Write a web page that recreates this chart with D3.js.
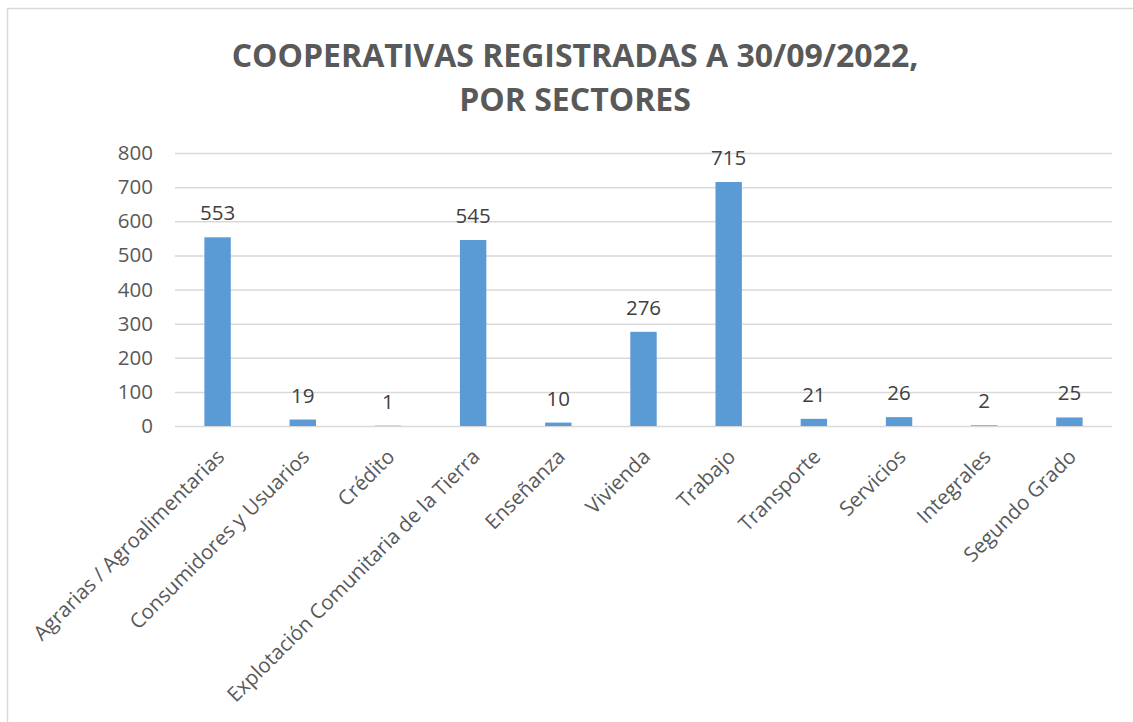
<!DOCTYPE html>
<html>
<head>
<meta charset="utf-8">
<script src="https://cdn.jsdelivr.net/npm/d3@7"></script>
<style>
  body { margin: 0; background: #fff; }
  svg text { font-family: "Open Sans", sans-serif; }
</style>
</head>
<body>
<div id="chart"></div>
<script>
// data
var sectores = ["Agrarias / Agroalimentarias", "Consumidores y Usuarios", "Crédito",
    "Explotación Comunitaria de la Tierra", "Enseñanza", "Vivienda", "Trabajo",
    "Transporte", "Servicios", "Integrales", "Segundo Grado"];
var cooperativas = [553, 19, 1, 545, 10, 276, 715, 21, 26, 2, 25];
var yTicks = [0, 100, 200, 300, 400, 500, 600, 700, 800];
var titulo = ["COOPERATIVAS REGISTRADAS A 30/09/2022,", "POR SECTORES"];

var W = 1133, H = 722;
var svg = d3.select("#chart").append("svg").attr("width", W).attr("height", H);

// chart area border (only top and left visible in the crop)
svg.append("rect")
    .attr("x", 7.5).attr("y", 8.5)
    .attr("width", 1200).attr("height", 800)
    .attr("fill", "none")
    .attr("stroke", "#d9d9d9")
    .attr("stroke-width", 1.5);

// title
svg.selectAll(".title")
    .data(titulo)
    .enter()
    .append("text")
    .attr("class", "title")
    .attr("x", 575)
    .attr("y", function (d, i) { return 67 + i * 44; })
    .attr("text-anchor", "middle")
    .style("font-size", "32px")
    .style("font-weight", "bold")
    .style("fill", "#595959")
    .text(function (d) { return d; });

var plotL = 175, plotR = 1112, plotT = 153, plotB = 426;

var x_scale = d3.scaleBand().domain(sectores).range([plotL, plotR]).padding(0);
var y_scale = d3.scaleLinear().domain([0, 800]).range([plotB, plotT]);
var barW = x_scale.bandwidth() * 0.31;

// gridlines
svg.append("g")
    .selectAll("line")
    .data(yTicks)
    .enter()
    .append("line")
    .attr("x1", plotL).attr("x2", plotR)
    .attr("y1", function (d) { return y_scale(d) + 0.5; })
    .attr("y2", function (d) { return y_scale(d) + 0.5; })
    .attr("stroke", "#d9d9d9")
    .attr("stroke-width", 1.5);

// y axis labels
var y_axis = d3.axisLeft(y_scale).tickValues(yTicks).tickSize(0).tickPadding(0);
var yg = svg.append("g")
    .attr("transform", "translate(" + (plotL - 22) + ",0)")
    .call(y_axis);
yg.select(".domain").remove();
yg.selectAll("text")
    .style("font-size", "20.5px")
    .style("font-family", "'Open Sans', sans-serif")
    .style("fill", "#595959");

// bars
svg.append("g")
    .selectAll("rect")
    .data(cooperativas)
    .enter()
    .append("rect")
    .attr("x", function (d, i) { return x_scale(sectores[i]) + (x_scale.bandwidth() - barW) / 2; })
    .attr("y", function (d) { return y_scale(d); })
    .attr("width", barW)
    .attr("height", function (d) { return plotB - y_scale(d); })
    .style("fill", "#5b9bd5");

// value labels
svg.append("g")
    .selectAll("text")
    .data(cooperativas)
    .enter()
    .append("text")
    .attr("x", function (d, i) { return x_scale(sectores[i]) + x_scale.bandwidth() / 2; })
    .attr("y", function (d) { return y_scale(d) - 17; })
    .attr("text-anchor", "middle")
    .style("font-size", "20.5px")
    .style("fill", "#404040")
    .text(function (d) { return d; });

// x labels, rotated
var x_axis = d3.axisBottom(x_scale).tickSize(0).tickPadding(0);
var xg = svg.append("g")
    .attr("transform", "translate(0," + plotB + ")")
    .call(x_axis);
xg.select(".domain").remove();
xg.selectAll("text")
    .style("font-size", "20.5px")
    .style("font-family", "'Open Sans', sans-serif")
    .style("fill", "#595959")
    .style("text-anchor", "end")
    .attr("y", 0).attr("dy", "0")
    .attr("transform", "translate(8,32)rotate(-45)");
</script>
</body>
</html>
